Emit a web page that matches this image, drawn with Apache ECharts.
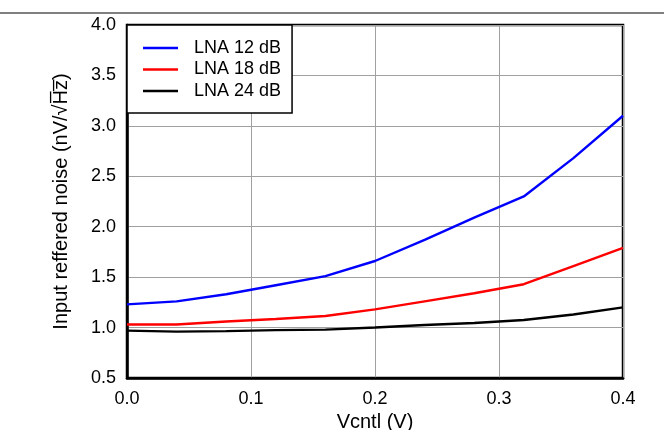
<!DOCTYPE html>
<html>
<head>
<meta charset="utf-8">
<script src="https://cdn.jsdelivr.net/npm/echarts@6/dist/echarts.min.js"></script>
<style>html,body{margin:0;padding:0;background:#fff}#c{width:664px;height:430px}</style>
</head>
<body>
<div id="c"></div>
<script>
const vcntl = [0.0, 0.04, 0.08, 0.12, 0.16, 0.20, 0.24, 0.28, 0.32, 0.36, 0.40];
const lna12 = [1.23, 1.26, 1.33, 1.42, 1.51, 1.66, 1.87, 2.09, 2.30, 2.68, 3.10];
const lna18 = [1.03, 1.03, 1.06, 1.085, 1.115, 1.18, 1.26, 1.34, 1.43, 1.61, 1.79];
const lna24 = [0.97, 0.96, 0.965, 0.975, 0.98, 1.0, 1.025, 1.045, 1.075, 1.13, 1.2];
const seriesNames = ['LNA 12 dB', 'LNA 18 dB', 'LNA 24 dB'];
const seriesColors = ['#0000ff', '#ff0000', '#000000'];
const seriesData = [lna12, lna18, lna24];

const font = '"Liberation Sans", Arial, sans-serif';
const chart = echarts.init(document.getElementById('c'), null, {renderer: 'canvas'});
chart.setOption({
  animation: false,
  backgroundColor: '#fff',
  textStyle: {fontFamily: font},
  grid: {left: 127, right: 41, top: 25, bottom: 52, show: true, borderColor: '#000', borderWidth: 2.5,
         containLabel: false, outerBoundsMode: 'none'},
  graphic: [{
    type: 'line', shape: {x1: 0, y1: 13, x2: 664, y2: 13},
    style: {stroke: '#000', lineWidth: 1}
  }],
  legend: {
    orient: 'vertical', left: 127, top: 25, z: 10,
    backgroundColor: '#fff', borderColor: '#000', borderWidth: 1.5,
    padding: [14, 11, 13, 16], itemGap: 3.5, itemWidth: 35, itemHeight: 2.5,
    icon: 'rect',
    textStyle: {fontSize: 18, color: '#000', fontFamily: font, padding: [0, 0, 0, 11]},
    data: seriesNames
  },
  xAxis: {
    type: 'value', min: 0, max: 0.4, interval: 0.1,
    name: 'Vcntl (V)', nameLocation: 'middle', nameGap: 33,
    nameTextStyle: {fontSize: 20, color: '#000', fontFamily: font},
    axisLine: {show: true, lineStyle: {color: '#000', width: 2.5}},
    axisTick: {show: false},
    axisLabel: {fontSize: 18, color: '#000', margin: 12, fontFamily: font, formatter: v => v.toFixed(1)},
    splitLine: {show: true, lineStyle: {color: '#a0a0a0', width: 1}}
  },
  yAxis: {
    type: 'value', min: 0.5, max: 4.0, interval: 0.5,
    name: 'Input reffered noise (nV/\u221AH\u0305z\u0305)', nameLocation: 'middle', nameGap: 56,
    nameTextStyle: {fontSize: 20, color: '#000', fontFamily: font},
    axisLine: {show: true, lineStyle: {color: '#000', width: 2.5}},
    axisTick: {show: false},
    axisLabel: {fontSize: 18, color: '#000', margin: 11, fontFamily: font, formatter: v => v.toFixed(1)},
    splitLine: {show: true, lineStyle: {color: '#a0a0a0', width: 1}}
  },
  series: seriesNames.map((n, i) => ({
    name: n, type: 'line', symbol: 'none', smooth: false,
    data: vcntl.map((x, j) => [x, seriesData[i][j]]),
    lineStyle: {color: seriesColors[i], width: 2.4},
    itemStyle: {color: seriesColors[i]}
  }))
});
</script>
</body>
</html>
